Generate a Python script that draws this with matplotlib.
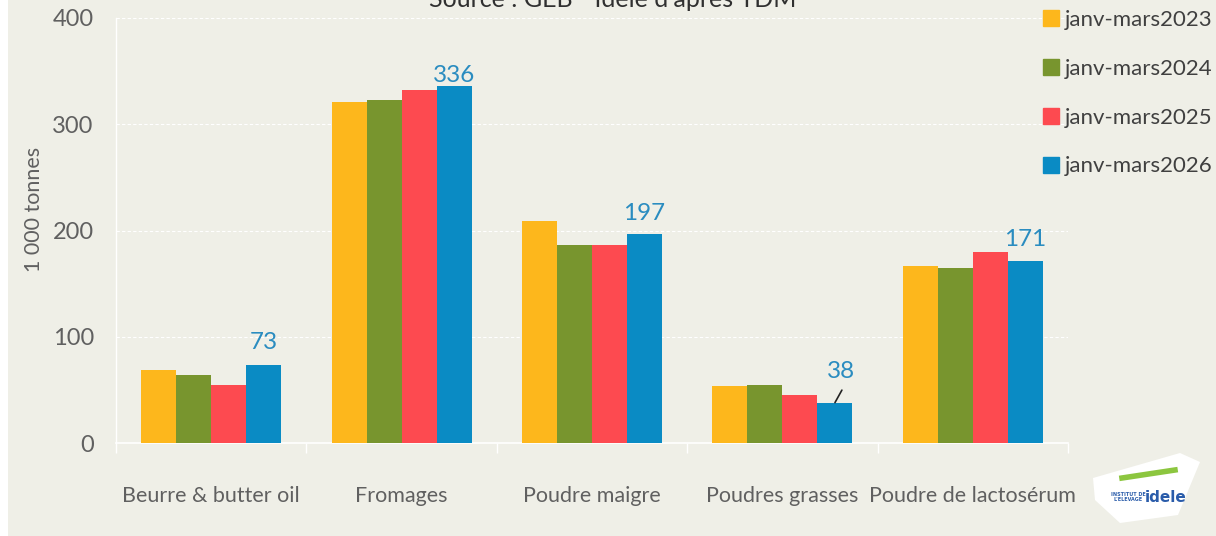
# -*- coding: utf-8 -*-
"""
Exportations françaises de produits laitiers, janv-mars
"""

import numpy as np
from matplotlib import pyplot as plt
from matplotlib.patches import Rectangle, Polygon
from matplotlib.lines import Line2D

# data (1 000 tonnes)
categories = ['Beurre & butter oil', 'Fromages', 'Poudre maigre',
              'Poudres grasses', 'Poudre de lactosérum']
series_names = ['janv-mars2023', 'janv-mars2024', 'janv-mars2025', 'janv-mars2026']
v2023 = [69, 321, 209, 54, 167]
v2024 = [64, 323, 186, 55, 165]
v2025 = [55, 332, 186, 45, 180]
v2026 = [73, 336, 197, 38, 171]
yticks = [0, 100, 200, 300, 400]

colors = ['#FDB71C', '#78952E', '#FD4A50', '#0A8BC4']
bg = '#EFEFE7'
grey = '#606060'
font = 'Lato'

fig = plt.figure(figsize=(12.16, 5.36), dpi=100)
fig.patch.set_facecolor('white')
fig.add_artist(Rectangle((8/1216, 0), 1, 1, transform=fig.transFigure,
                         facecolor=bg, edgecolor='none', zorder=-10))

ax = fig.add_axes([116/1216, 1-443/536, 952/1216, 425/536])
ax.set_facecolor(bg)
ax.patch.set_alpha(0)

x = np.arange(len(categories))
w = 0.184
all_vals = [v2023, v2024, v2025, v2026]
for i, vals in enumerate(all_vals):
  ax.bar(x + (i-1.5)*w, vals, w, color=colors[i], label=series_names[i], zorder=3)

# labels on last series
offsets = {0: (0, 9), 1: (0, 0), 2: (0, 7), 3: (4, 15), 4: (0, 8)}
for j, v in enumerate(v2026):
  xb = x[j] + 1.5*w
  dx, dy = offsets[j]
  ax.annotate(str(v), (xb, v), xytext=(dx, dy), textcoords='offset points',
              ha='center', va='bottom', color='#2A8CC0', fontsize=17.5, family=font)
# leader line for the small one
ax.annotate('', (x[3] + 1.5*w, v2026[3]), xytext=(5, 9), textcoords='offset points',
            arrowprops=dict(arrowstyle='-', color='#222222', lw=1.2, shrinkA=0, shrinkB=0))

ax.set_xlim(-0.5, len(categories)-0.5)
ax.set_ylim(0, 400)
ax.set_yticks(yticks)
ax.yaxis.grid(True, color='white', linestyle=(0, (3, 2)), linewidth=0.8, zorder=0)
for s in ['top', 'right']:
  ax.spines[s].set_visible(False)
ax.spines['left'].set_color('white')
ax.spines['bottom'].set_color('white')
ax.spines['left'].set_linewidth(1)
ax.spines['bottom'].set_linewidth(1.2)

ax.set_xticks(x)
ax.set_xticklabels(categories, fontsize=15.5, color=grey, family=font)
ax.tick_params(axis='x', length=0, pad=31)
ax.set_xticks(np.arange(len(categories)+1) - 0.5, minor=True)
ax.tick_params(axis='x', which='minor', length=7, color='white', width=1)
ax.tick_params(axis='y', length=0, pad=16, labelsize=17, labelcolor=grey)
for t in ax.get_yticklabels():
  t.set_family(font)
ax.set_ylabel('1 000 tonnes', fontsize=15.5, color=grey, family=font)
ax.yaxis.set_label_coords(-72/952, 0.55)

# legend
handles = [Line2D([], [], marker='s', linestyle='none', markersize=11,
                  markerfacecolor=c, markeredgecolor=c) for c in colors]
leg = fig.legend(handles, series_names, loc='upper right', bbox_to_anchor=(1.014, 1.019),
                 frameon=False, handlelength=0.8, handletextpad=0.25, labelspacing=1.3,
                 prop={'family': font, 'size': 16})
for t in leg.get_texts():
  t.set_color('#404040')

# title, cut at the top
fig.text(0.504, 1 - 7/536, "Source : GEB - Idele d'après TDM", ha='center', va='baseline',
         fontsize=18, color='#303030', family=font)

# logo
logo = Polygon([[1093/1216, 1-478/536], [1180/1216, 1-453/536], [1200/1216, 1-462/536],
                [1178/1216, 1-515/536], [1120/1216, 1-523/536], [1095/1216, 1-500/536]],
               closed=True, transform=fig.transFigure, facecolor='white',
               edgecolor='none', joinstyle='round')
fig.add_artist(logo)
fig.add_artist(Line2D([1122/1216, 1175/1216], [1-478/536, 1-470/536],
                      transform=fig.transFigure, color='#8CC63F', lw=4))
fig.text(1166/1216, 1-497/536, 'idele', ha='center', va='center', fontsize=11,
         weight='bold', color='#2A5CAA', family='DejaVu Sans')
fig.text(1128/1216, 1-497/536, "INSTITUT DE\nL'ELEVAGE", ha='center', va='center',
         fontsize=3.5, weight='bold', color='#2A5CAA', family='DejaVu Sans')

plt.savefig('out.png', dpi=100, facecolor=fig.get_facecolor())
